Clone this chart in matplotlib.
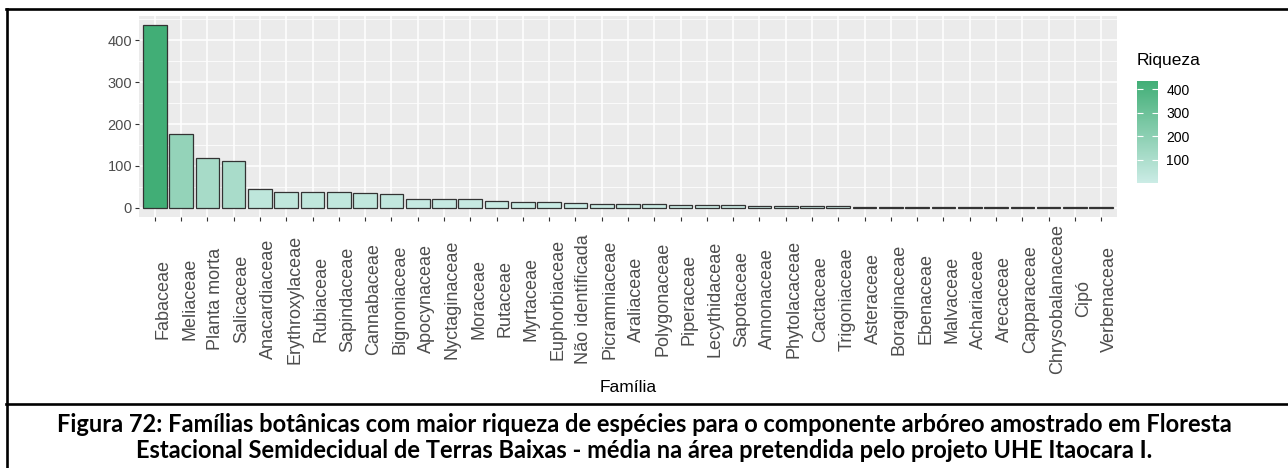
#!usr/bin/python

"""
Riqueza de espécies por família botânica, com a legenda da figura em baixo.
"""
import matplotlib
matplotlib.use('Agg')
import matplotlib.pyplot as plt
from matplotlib.colors import LinearSegmentedColormap, Normalize
from matplotlib.cm import ScalarMappable
from matplotlib.lines import Line2D
from matplotlib.ticker import MultipleLocator

# DATA
familias = [
    'Fabaceae', 'Meliaceae', 'Planta morta', 'Salicaceae', 'Anacardiaceae',
    'Erythroxylaceae', 'Rubiaceae', 'Sapindaceae', 'Cannabaceae', 'Bignoniaceae',
    'Apocynaceae', 'Nyctaginaceae', 'Moraceae', 'Rutaceae', 'Myrtaceae',
    'Euphorbiaceae', 'Não identificada', 'Picramniaceae', 'Araliaceae',
    'Polygonaceae', 'Piperaceae', 'Lecythidaceae', 'Sapotaceae', 'Annonaceae',
    'Phytolacaceae', 'Cactaceae', 'Trigoniaceae', 'Asteraceae', 'Boraginaceae',
    'Ebenaceae', 'Malvaceae', 'Achariaceae', 'Arecaceae', 'Capparaceae',
    'Chrysobalanaceae', 'Cipó', 'Verbenaceae',
]
riqueza = [
    436, 176, 118, 111, 44,
    39, 39, 38, 36, 34,
    22, 22, 20, 17, 15,
    13, 11, 9, 9,
    9, 8, 8, 8, 5,
    5, 5, 5, 2, 2,
    2, 2, 1, 1, 1,
    1, 1, 1,
]
escala_ticks = [100, 200, 300, 400]

legenda = ('Figura 72: Famílias botânicas com maior riqueza de espécies para o '
           'componente arbóreo amostrado em Floresta\nEstacional Semidecidual de '
           'Terras Baixas - média na área pretendida pelo projeto UHE Itaocara I.')

FONT = ['Liberation Sans', 'DejaVu Sans']
W, H = 1288, 468


def fx(px):
    return px / W


def fy(px):
    return 1 - px / H


def main():
    plt.rcParams['font.family'] = FONT
    fig = plt.figure(figsize=(W / 100, H / 100), dpi=100)
    fig.patch.set_facecolor('white')

    # painel estilo ggplot
    ax = fig.add_axes([fx(139), fy(217), fx(1117 - 139), (217 - 16) / H])
    ax.set_facecolor('#EBEBEB')
    for sp in ax.spines.values():
        sp.set_visible(False)

    cmap = LinearSegmentedColormap.from_list('riq', ['#CCECE6', '#41AE76'])
    norm = Normalize(vmin=min(riqueza), vmax=max(riqueza))

    pos = list(range(1, len(familias) + 1))
    ax.bar(pos, riqueza, width=0.9, color=[cmap(norm(v)) for v in riqueza],
           edgecolor='#333333', linewidth=0.9, zorder=3)

    ax.set_xlim(0.4, len(familias) + 0.6)
    ax.set_ylim(-0.05 * max(riqueza), 1.05 * max(riqueza))
    ax.yaxis.set_major_locator(MultipleLocator(100))
    ax.yaxis.set_minor_locator(MultipleLocator(50))
    ax.grid(which='major', color='white', linewidth=1.1, zorder=0)
    ax.grid(which='minor', axis='y', color='white', linewidth=0.55, zorder=0)
    ax.set_axisbelow(True)

    ax.set_xticks(pos)
    ax.set_xticklabels(familias, rotation=90, ha='left', va='center')
    ax.tick_params(axis='x', length=3, width=0.8, color='#333333', pad=56,
                   labelsize=13, labelcolor='#4D4D4D')
    ax.tick_params(axis='y', which='major', length=3, width=0.8, color='#333333',
                   pad=2, labelsize=10.5, labelcolor='#4D4D4D')
    ax.tick_params(axis='y', which='minor', length=0)

    ax.set_xlabel('Família', fontsize=12.5, color='black', va='center')
    ax.xaxis.set_label_coords(0.5, -(388 - 217) / (217 - 16))

    # barra de cores
    cax = fig.add_axes([fx(1137), fy(183.4), fx(21), 102.9 / H])
    cbar = fig.colorbar(ScalarMappable(norm=norm, cmap=cmap), cax=cax)
    cbar.outline.set_visible(False)
    cbar.set_ticks(escala_ticks)
    cax.tick_params(axis='y', which='major', direction='in', left=True, right=True,
                    labelleft=False, labelright=True, color='white', length=4,
                    width=0.8, labelsize=10, labelcolor='black', pad=6)
    cax.minorticks_off()
    fig.text(fx(1137), fy(61), 'Riqueza', fontsize=12.5, ha='left', va='center')

    # moldura da tabela
    lw = 1.9
    fig.add_artist(Line2D([fx(6), 1], [fy(9), fy(9)], transform=fig.transFigure,
                          color='black', linewidth=lw))
    fig.add_artist(Line2D([fx(7), fx(7)], [fy(8.5), 0], transform=fig.transFigure,
                          color='black', linewidth=lw))
    fig.add_artist(Line2D([fx(6), 1], [fy(404), fy(404)], transform=fig.transFigure,
                          color='black', linewidth=lw))

    linhas = legenda.split('\n')
    fig.text(0.5, fy(425), linhas[0], fontsize=17, fontweight='bold',
             family=['Lato', 'DejaVu Sans'], ha='center', va='center')
    fig.text(0.5, fy(450), linhas[1], fontsize=17, fontweight='bold',
             family=['Lato', 'DejaVu Sans'], ha='center', va='center')

    fig.savefig('out.png', dpi=100)


if __name__ == '__main__':
    main()
